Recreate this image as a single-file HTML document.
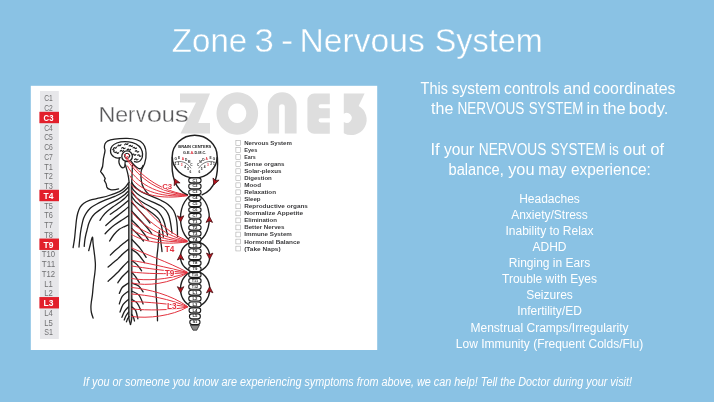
<!DOCTYPE html>
<html><head><meta charset="utf-8"><title>Zone 3 - Nervous System</title>
<style>
html,body{margin:0;padding:0;background:#8ac2e4;overflow:hidden}
svg{display:block;will-change:transform;filter:blur(0.4px)}
text{font-family:"Liberation Sans",sans-serif}
</style></head><body>
<svg width="714" height="402" viewBox="0 0 714 402">
<rect width="714" height="402" fill="#8ac2e4"/>
<!-- title -->
<g fill="#fff" font-size="32.5" stroke="#8ac2e4" stroke-width="0.35">
<text x="171.81" y="52.3" textLength="75.36" lengthAdjust="spacingAndGlyphs">Zone</text>
<text x="254.61" y="52.3" textLength="19.29" lengthAdjust="spacingAndGlyphs">3</text>
<text x="280.95" y="52.3" textLength="12.23" lengthAdjust="spacingAndGlyphs">-</text>
<text x="299.61" y="52.3" textLength="125.12" lengthAdjust="spacingAndGlyphs">Nervous</text>
<text x="434.74" y="52.3" textLength="107.89" lengthAdjust="spacingAndGlyphs">System</text>
</g>

<!-- panel -->
<rect x="30.8" y="85.8" width="346.4" height="264.2" fill="#fff"/>
<!-- label strip -->
<rect x="40" y="91" width="18.8" height="248" fill="#e7e7ea"/>
<g font-size="9.4" text-anchor="middle">
<text x="48.5" y="101.40" fill="#707072" textLength="8.6" lengthAdjust="spacingAndGlyphs">C1</text>
<text x="48.5" y="111.15" fill="#707072" textLength="8.6" lengthAdjust="spacingAndGlyphs">C2</text>
<rect x="39.4" y="111.80" width="19.6" height="11.4" fill="#e21f2b"/>
<text x="48.5" y="120.90" fill="#fff" font-weight="bold" font-size="9.6" textLength="9.9" lengthAdjust="spacingAndGlyphs">C3</text>
<text x="48.5" y="130.65" fill="#707072" textLength="8.6" lengthAdjust="spacingAndGlyphs">C4</text>
<text x="48.5" y="140.40" fill="#707072" textLength="8.6" lengthAdjust="spacingAndGlyphs">C5</text>
<text x="48.5" y="150.15" fill="#707072" textLength="8.6" lengthAdjust="spacingAndGlyphs">C6</text>
<text x="48.5" y="159.90" fill="#707072" textLength="8.6" lengthAdjust="spacingAndGlyphs">C7</text>
<text x="48.5" y="169.65" fill="#707072" textLength="8.6" lengthAdjust="spacingAndGlyphs">T1</text>
<text x="48.5" y="179.40" fill="#707072" textLength="8.6" lengthAdjust="spacingAndGlyphs">T2</text>
<text x="48.5" y="189.15" fill="#707072" textLength="8.6" lengthAdjust="spacingAndGlyphs">T3</text>
<rect x="39.4" y="189.80" width="19.6" height="11.4" fill="#e21f2b"/>
<text x="48.5" y="198.90" fill="#fff" font-weight="bold" font-size="9.6" textLength="9.9" lengthAdjust="spacingAndGlyphs">T4</text>
<text x="48.5" y="208.65" fill="#707072" textLength="8.6" lengthAdjust="spacingAndGlyphs">T5</text>
<text x="48.5" y="218.40" fill="#707072" textLength="8.6" lengthAdjust="spacingAndGlyphs">T6</text>
<text x="48.5" y="228.15" fill="#707072" textLength="8.6" lengthAdjust="spacingAndGlyphs">T7</text>
<text x="48.5" y="237.90" fill="#707072" textLength="8.6" lengthAdjust="spacingAndGlyphs">T8</text>
<rect x="39.4" y="238.55" width="19.6" height="11.4" fill="#e21f2b"/>
<text x="48.5" y="247.65" fill="#fff" font-weight="bold" font-size="9.6" textLength="9.9" lengthAdjust="spacingAndGlyphs">T9</text>
<text x="48.5" y="257.40" fill="#707072" textLength="13.3" lengthAdjust="spacingAndGlyphs">T10</text>
<text x="48.5" y="267.15" fill="#707072" textLength="13.3" lengthAdjust="spacingAndGlyphs">T11</text>
<text x="48.5" y="276.90" fill="#707072" textLength="13.3" lengthAdjust="spacingAndGlyphs">T12</text>
<text x="48.5" y="286.65" fill="#707072" textLength="8.6" lengthAdjust="spacingAndGlyphs">L1</text>
<text x="48.5" y="296.40" fill="#707072" textLength="8.6" lengthAdjust="spacingAndGlyphs">L2</text>
<rect x="39.4" y="297.05" width="19.6" height="11.4" fill="#e21f2b"/>
<text x="48.5" y="306.15" fill="#fff" font-weight="bold" font-size="9.6" textLength="9.9" lengthAdjust="spacingAndGlyphs">L3</text>
<text x="48.5" y="315.90" fill="#707072" textLength="8.6" lengthAdjust="spacingAndGlyphs">L4</text>
<text x="48.5" y="325.65" fill="#707072" textLength="8.6" lengthAdjust="spacingAndGlyphs">L5</text>
<text x="48.5" y="335.40" fill="#707072" textLength="8.6" lengthAdjust="spacingAndGlyphs">S1</text>
</g>
<!-- ZONE3 -->
<g fill="#dedede">
<path d="M180 93.6H210L198.2 123H210V133.5H180.5L196 102.5H180Z"/>
<path fill-rule="evenodd" d="M237.3 92.2a20.8 21.3 0 1 0 0.01 0ZM237.2 103.5a9.1 9.8 0 1 1 -0.01 0Z"/>
<path d="M267.9 133.4V106.6a14.35 14.35 0 0 1 28.7 0V133.4H284.8V107.2a2.85 2.85 0 0 0 -5.7 0V133.4Z"/>
<path d="M329.8 93.4H314.2a6.8 6.8 0 0 0 -6.8 6.8V126.9a6.8 6.8 0 0 0 6.8 6.8H329.8V122.4H320.6a2 2 0 0 1 0 -4.1H329.8V108.3H320.6a2 2 0 0 1 0 -4.1H329.8Z"/>
<path d="M343.8 93.4H364.6L358.6 106A12.6 12.6 0 0 1 343.8 133.2V122A5 5 0 1 0 343.8 113.8Z"/>
</g>
<g fill="#58585a" font-size="22" stroke="#fff" stroke-width="0.3">
<text x="98.63" y="121.5" textLength="16.89" lengthAdjust="spacingAndGlyphs">N</text>
<text x="115.15" y="121.5" textLength="12.92" lengthAdjust="spacingAndGlyphs">e</text>
<text x="127.90" y="121.5" textLength="7.19" lengthAdjust="spacingAndGlyphs">r</text>
<text x="136.10" y="121.5" textLength="10.20" lengthAdjust="spacingAndGlyphs">v</text>
<text x="146.70" y="121.5" textLength="15.34" lengthAdjust="spacingAndGlyphs">o</text>
<text x="161.67" y="121.5" textLength="13.09" lengthAdjust="spacingAndGlyphs">u</text>
<text x="174.65" y="121.5" textLength="14.14" lengthAdjust="spacingAndGlyphs">s</text>
</g>

<!-- checklist -->
<g font-size="5.3" font-weight="bold" fill="#3a3a3c">
<rect x="235.9" y="140.70" width="4.8" height="4.8" fill="#fff" stroke="#9a9a9a" stroke-width="0.5"/>
<text x="244.2" y="145.10" textLength="47.7" lengthAdjust="spacingAndGlyphs">Nervous System</text>
<rect x="235.9" y="147.73" width="4.8" height="4.8" fill="#fff" stroke="#9a9a9a" stroke-width="0.5"/>
<text x="244.2" y="152.13" textLength="13.1" lengthAdjust="spacingAndGlyphs">Eyes</text>
<rect x="235.9" y="154.76" width="4.8" height="4.8" fill="#fff" stroke="#9a9a9a" stroke-width="0.5"/>
<text x="244.2" y="159.16" textLength="11.5" lengthAdjust="spacingAndGlyphs">Ears</text>
<rect x="235.9" y="161.79" width="4.8" height="4.8" fill="#fff" stroke="#9a9a9a" stroke-width="0.5"/>
<text x="244.2" y="166.19" textLength="40.3" lengthAdjust="spacingAndGlyphs">Sense organs</text>
<rect x="235.9" y="168.82" width="4.8" height="4.8" fill="#fff" stroke="#9a9a9a" stroke-width="0.5"/>
<text x="244.2" y="173.22" textLength="37.3" lengthAdjust="spacingAndGlyphs">Solar-plexus</text>
<rect x="235.9" y="175.85" width="4.8" height="4.8" fill="#fff" stroke="#9a9a9a" stroke-width="0.5"/>
<text x="244.2" y="180.25" textLength="27.6" lengthAdjust="spacingAndGlyphs">Digestion</text>
<rect x="235.9" y="182.88" width="4.8" height="4.8" fill="#fff" stroke="#9a9a9a" stroke-width="0.5"/>
<text x="244.2" y="187.28" textLength="16.8" lengthAdjust="spacingAndGlyphs">Mood</text>
<rect x="235.9" y="189.91" width="4.8" height="4.8" fill="#fff" stroke="#9a9a9a" stroke-width="0.5"/>
<text x="244.2" y="194.31" textLength="31.8" lengthAdjust="spacingAndGlyphs">Relaxation</text>
<rect x="235.9" y="196.94" width="4.8" height="4.8" fill="#fff" stroke="#9a9a9a" stroke-width="0.5"/>
<text x="244.2" y="201.34" textLength="16.4" lengthAdjust="spacingAndGlyphs">Sleep</text>
<rect x="235.9" y="203.97" width="4.8" height="4.8" fill="#fff" stroke="#9a9a9a" stroke-width="0.5"/>
<text x="244.2" y="208.37" textLength="63.7" lengthAdjust="spacingAndGlyphs">Reproductive organs</text>
<rect x="235.9" y="211.00" width="4.8" height="4.8" fill="#fff" stroke="#9a9a9a" stroke-width="0.5"/>
<text x="244.2" y="215.40" textLength="58.9" lengthAdjust="spacingAndGlyphs">Normalize Appetite</text>
<rect x="235.9" y="218.03" width="4.8" height="4.8" fill="#fff" stroke="#9a9a9a" stroke-width="0.5"/>
<text x="244.2" y="222.43" textLength="32.8" lengthAdjust="spacingAndGlyphs">Elimination</text>
<rect x="235.9" y="225.06" width="4.8" height="4.8" fill="#fff" stroke="#9a9a9a" stroke-width="0.5"/>
<text x="244.2" y="229.46" textLength="40.3" lengthAdjust="spacingAndGlyphs">Better Nerves</text>
<rect x="235.9" y="232.09" width="4.8" height="4.8" fill="#fff" stroke="#9a9a9a" stroke-width="0.5"/>
<text x="244.2" y="236.49" textLength="47.7" lengthAdjust="spacingAndGlyphs">Immune System</text>
<rect x="235.9" y="239.12" width="4.8" height="4.8" fill="#fff" stroke="#9a9a9a" stroke-width="0.5"/>
<text x="244.2" y="243.52" textLength="55.9" lengthAdjust="spacingAndGlyphs">Hormonal Balance</text>
<rect x="235.9" y="246.15" width="4.8" height="4.8" fill="#fff" stroke="#9a9a9a" stroke-width="0.5"/>
<text x="244.2" y="250.55" textLength="36.5" lengthAdjust="spacingAndGlyphs">(Take Naps)</text>
</g>
<g fill="none" stroke="#1f1f1f" stroke-width="1.3" stroke-linecap="round" stroke-linejoin="round">
<!-- head outline -->
<path d="M118.6 188.9C115 189.8 112.5 190 110.4 189.6C108.5 189.2 107.2 188.5 106.8 187C106.5 185.5 106.6 184 105.6 182.6L104.4 180.6L105.2 178.6L104 176.2C103.5 175 102 173.5 100.6 171.6C102.2 168.5 103.3 165.5 103.2 161.5C103.1 157.5 104.8 154 105 150.6C105.1 149.6 104.4 148.8 104.4 147.6C104.3 144.8 105 142.5 107.3 141.2C112 138.9 120 138.3 127 138.4C134 138.5 140 140.2 143 143.6C146 147 146.4 153 145.9 158C145.4 163 143.6 166.5 141.6 169.6C140.6 172.5 140.8 177 141.4 181C141.8 185.5 144 190 149.2 194.9"/>
<!-- brain -->
<path d="M120.3 157.6C118.7 158.3 116.4 158.2 114.2 157C111.8 155.6 110.4 153.2 110.5 150.5C110.7 147 113 144.4 116.8 143C121.2 141.5 128 141.4 132.5 142.7C137.3 144.1 141 147.3 142.2 151.5C143 155 142.4 158.4 140.3 160.6C138.8 162.1 136.5 162.4 134.5 161.7"/>
<circle cx="127.1" cy="156.2" r="5.3"/>
<circle cx="127.1" cy="155.9" r="2.6" stroke-width="1"/>
<!-- brain stem -->
<path d="M119.4 158.5C118.6 161 119 164.5 121 166.8C123 168.8 125.3 167.5 125 164.5C124.8 162.5 125 161.5 126 161"/>
<path d="M125.5 165C126.5 169 128 173 128.6 178C129 181 129.4 184 129.5 187"/>
<path d="M131 161.2C133 164 135.5 167 138.5 168.5C140.5 169.3 142.3 168 143 165.5"/>
<path d="M132.5 164.5C132.2 170 132 176 131.6 187"/>
<!-- brain squiggles -->
<g stroke-width="1.15">
<path d="M113.45 148.85C113.82 147.37 114.55 147.49 114.92 147.93C115.30 148.37 116.03 148.48 116.40 147.01"/>
<path d="M117.85 146.23C118.34 144.79 119.06 144.97 119.40 145.44C119.73 145.91 120.45 146.09 120.94 144.66"/>
<path d="M121.64 148.19C122.69 147.09 123.27 147.56 123.37 148.13C123.47 148.69 124.05 149.16 125.11 148.07"/>
<path d="M115.18 152.61C116.32 151.61 116.86 152.13 116.91 152.70C116.96 153.27 117.50 153.79 118.65 152.79"/>
<path d="M124.74 144.80C125.36 143.41 126.06 143.65 126.35 144.15C126.64 144.65 127.35 144.89 127.97 143.50"/>
<path d="M129.09 146.00C130.15 144.91 130.72 145.37 130.83 145.94C130.93 146.51 131.51 146.97 132.56 145.88"/>
<path d="M127.11 149.83C128.07 148.65 128.69 149.06 128.84 149.62C128.99 150.17 129.61 150.59 130.56 149.41"/>
<path d="M133.07 147.84C134.22 146.84 134.75 147.36 134.80 147.93C134.86 148.50 135.39 149.02 136.54 148.02"/>
<path d="M135.27 151.16C136.50 150.27 136.99 150.83 136.99 151.41C136.99 151.98 137.48 152.54 138.71 151.65"/>
<path d="M132.27 154.65C133.33 153.55 133.90 154.02 134.01 154.59C134.11 155.15 134.69 155.62 135.74 154.53"/>
<path d="M137.58 155.19C138.89 154.41 139.32 155.01 139.28 155.58C139.23 156.16 139.67 156.76 140.97 155.97"/>
<path d="M134.57 159.67C135.53 158.49 136.14 158.90 136.29 159.46C136.45 160.01 137.06 160.43 138.02 159.25"/>
<path d="M112.77 149.62C114.28 149.72 114.30 150.47 113.93 150.91C113.56 151.35 113.57 152.10 115.09 152.20"/>
<path d="M120.18 151.27C121.03 150.01 121.68 150.37 121.88 150.91C122.08 151.45 122.73 151.81 123.58 150.55"/>
</g>
</g>
<!-- body: shoulders, arms, torso, spine, nerves -->
<g fill="none" stroke="#1f1f1f" stroke-width="1.3" stroke-linecap="round" stroke-linejoin="round">
<!-- spinal cord -->
<path d="M128.8 183V318C129.2 321 130 323 130.5 324.5C131 323 131.5 321 131.8 318V183Z" fill="#cfcfcf" stroke="none"/>
<path d="M128.8 183V318C129.2 321 130 323 130.5 324.5"/>
<path d="M131.8 183V318C131.5 321 131 323 130.5 324.5"/>
<!-- right shoulder / arm lines -->
<path d="M131.6 182.4C133.5 186 137 190 144.7 193.4C150 195.7 156 198 162 200.8C167 203 171 206.5 173.5 210.5C176 215 177 221 177.3 227C177.5 231 177.5 234 177.5 236.5"/>
<path d="M131.6 187.2C134 191.5 138 195 144.7 198.5C150 201.2 156 203 161 206C165 208.5 167.5 212 169 216C170.5 221 171.3 227 172 233"/>
<path d="M131.6 191.8C134 196 138 199.5 143 202.5C148 205.5 153 207.5 157 210.5C160.5 213.5 163 218 164.5 223C165.5 227 166.5 231 167.5 235"/>
<path d="M131.6 196.5C134 200.5 137 203.2 140 205.2C143.5 207.5 147 209.5 150 211.5C154 214.3 157 216.5 159 219.5C161.5 223.5 162.5 230 163.4 237"/>
<!-- right armpit + torso -->
<path d="M162 251.5C161.2 244 160.2 237 159.3 230.5C158.8 237 158.3 242 158 247C157.5 252 156.7 257 156.7 262C156.5 270 156 279 155.8 287C155.8 295 157 303 157.3 311C157.5 315 157.5 318 157.5 320.8"/>
<!-- right nerve branches -->
<path d="M131.7 202.5C136 207 143 214 150 223"/>
<path d="M131.7 211C136 216 145 224 151.7 233.5"/>
<path d="M131.7 220C136 224 143 231 148.3 240"/>
<path d="M131.7 228.5C136 232 140 236.5 143.5 241"/>
</g>
<!-- body lines (generated) -->
<g fill="none" stroke="#1f1f1f" stroke-width="1.3" stroke-linecap="round" stroke-linejoin="round">
<path d="M128.4 183.0C127.8 183.8 126.0 186.6 124.5 188.0C123.0 189.4 121.9 190.3 119.3 191.6C116.7 192.8 112.2 194.4 109.0 195.5C105.8 196.6 103.2 197.1 99.9 197.9C96.6 198.7 92.1 199.4 89.4 200.3C86.7 201.2 85.0 202.3 83.5 203.5C82.0 204.7 81.2 205.6 80.2 207.2C79.2 208.8 78.4 210.9 77.8 213.0C77.2 215.1 76.9 216.7 76.5 219.5C76.1 222.3 75.8 226.6 75.4 230.0C75.1 233.4 74.8 236.8 74.4 239.7C74.0 242.6 73.3 246.3 73.1 247.6"/>
<path d="M128.2 187.3C127.2 188.2 124.7 191.0 122.5 192.5C120.3 194.0 117.7 195.1 114.8 196.4C111.9 197.7 108.0 198.9 105.0 200.2C102.0 201.5 99.3 202.7 96.9 204.0C94.5 205.3 92.2 206.5 90.5 208.0C88.8 209.5 87.6 211.1 86.4 212.8C85.2 214.6 84.2 216.5 83.5 218.5C82.8 220.5 82.4 222.6 81.9 224.8C81.4 227.1 81.0 229.5 80.6 232.0C80.2 234.5 80.0 237.2 79.7 239.7C79.4 242.2 79.1 245.8 79.0 247.0"/>
<path d="M128.2 191.2C127.4 191.9 125.2 194.2 123.5 195.6C121.8 197.0 120.4 197.9 117.8 199.4C115.2 200.9 111.0 202.8 108.0 204.5C105.0 206.2 102.2 208.3 99.9 209.9C97.7 211.5 96.0 212.5 94.5 214.0C93.0 215.5 91.9 217.1 90.9 218.8C89.9 220.5 89.2 222.2 88.6 224.0C88.0 225.8 87.7 227.6 87.2 229.3C86.8 231.1 86.3 232.8 85.9 234.5C85.5 236.2 85.2 237.7 84.9 239.7C84.6 241.7 84.3 245.3 84.2 246.4"/>
<path d="M128.4 194.2C127.8 194.9 126.0 197.1 124.5 198.5C123.0 199.9 121.2 201.0 119.3 202.4C117.4 203.8 115.0 205.3 113.0 206.8C111.0 208.3 109.0 209.8 107.3 211.3C105.6 212.8 104.2 214.3 103.0 215.8C101.8 217.3 100.4 219.6 99.9 220.3"/>
<path d="M128.4 200.6C127.0 201.8 123.0 205.2 120.0 207.5C117.0 209.8 111.9 213.2 110.3 214.3"/>
<path d="M128.4 206.9C127.8 207.4 126.0 209.0 124.5 210.2C123.0 211.4 121.4 212.7 119.3 214.3C117.2 215.9 114.2 218.1 112.0 220.0C109.8 221.9 106.8 224.6 105.8 225.5"/>
<path d="M128.4 215.8C127.3 216.5 124.3 218.5 122.0 220.0C119.7 221.5 116.9 223.3 114.8 224.8C112.7 226.3 111.1 227.7 109.5 229.2C107.9 230.7 105.8 232.9 105.1 233.7"/>
<path d="M128.4 224.8C127.7 225.1 125.5 226.1 124.0 226.8C122.5 227.6 121.0 228.0 119.3 229.3C117.6 230.6 115.6 232.6 114.0 234.5C112.4 236.4 110.3 239.9 109.6 241.0"/>
<path d="M88.7 250.7C89.0 249.7 89.7 246.8 90.3 244.5C90.9 242.2 91.9 237.4 92.4 237.2C92.9 237.0 92.8 241.4 93.1 243.5C93.3 245.6 93.6 247.7 93.9 249.9C94.2 252.2 94.5 254.5 94.8 257.0C95.0 259.5 95.4 262.3 95.4 264.9C95.4 267.5 95.2 270.0 94.9 272.5C94.7 275.0 94.2 277.5 93.9 280.0C93.6 282.5 93.3 285.0 93.1 287.5C92.8 290.0 92.7 292.6 92.4 294.9C92.1 297.2 91.7 299.5 91.4 301.5C91.2 303.5 90.9 305.1 90.9 306.9C90.9 308.7 91.0 310.6 91.4 312.5C91.8 314.4 92.8 317.2 93.1 318.1"/>
<path d="M128.4 239.5C127.7 240.1 125.5 241.8 124.0 243.0C122.5 244.2 120.9 245.6 119.3 246.9C117.7 248.2 116.0 249.6 114.5 251.0C113.0 252.4 111.0 254.4 110.3 255.1"/>
<path d="M128.4 249.2C127.5 250.0 124.8 252.2 123.0 253.8C121.2 255.4 119.5 257.3 117.8 258.9C116.0 260.5 114.1 261.9 112.5 263.3C110.9 264.7 108.8 266.5 108.1 267.1"/>
<path d="M128.4 261.1C127.5 262.0 124.8 264.6 123.0 266.5C121.2 268.4 119.5 270.5 117.8 272.3C116.0 274.1 114.1 275.8 112.5 277.3C110.9 278.8 108.8 280.6 108.1 281.3"/>
<path d="M128.4 270.8C127.4 271.8 124.0 274.8 122.2 276.8C120.4 278.8 118.5 281.8 117.8 282.8"/>
<path d="M128.4 283.0C127.4 283.8 123.7 285.8 122.2 287.5C120.7 289.2 119.8 292.4 119.3 293.4"/>
<path d="M128.4 291.2C127.4 292.1 123.7 294.3 122.2 296.4C120.7 298.5 119.8 302.6 119.3 303.9"/>
<path d="M128.4 299.4C127.5 300.3 124.4 302.5 123.0 304.6C121.6 306.7 120.5 310.9 120.0 312.1"/>
<path d="M128.4 306.9C127.8 307.6 125.6 309.6 124.5 311.3C123.4 313.0 122.3 316.3 121.9 317.3"/>
<path d="M128.6 312.1C128.2 312.7 126.7 314.5 126.0 315.8C125.3 317.1 124.5 319.3 124.2 320.0"/>
<path d="M129.0 316.6C128.8 317.0 127.9 318.2 127.5 319.1C127.1 320.0 126.6 321.4 126.4 321.8"/>
<path d="M131.9 239.5C133.3 241.0 137.7 245.4 140.1 248.4C142.5 251.4 145.1 255.9 146.1 257.4"/>
<path d="M131.9 249.5C132.9 250.2 135.9 251.8 138.0 254.0C140.1 256.2 143.4 261.1 144.5 262.5"/>
<path d="M131.9 260.4C132.8 261.1 135.6 263.2 137.2 264.9C138.8 266.6 140.9 269.8 141.6 270.8"/>
<path d="M131.9 272.3C132.5 273.1 134.4 275.1 135.7 276.8C136.9 278.6 138.8 281.8 139.4 282.8"/>
<path d="M131.9 283.0C133.0 283.5 136.8 284.5 138.7 286.0C140.6 287.5 142.4 290.9 143.1 291.9"/>
<path d="M131.9 291.2C133.0 291.8 136.8 292.8 138.7 294.9C140.6 297.0 142.4 302.4 143.1 303.9"/>
<path d="M131.9 299.4C132.8 300.0 135.7 301.2 137.2 303.1C138.7 305.0 140.3 309.4 140.9 310.6"/>
<path d="M131.9 306.9C132.5 307.5 134.7 308.6 135.7 310.6C136.7 312.6 137.5 317.4 137.9 318.8"/>
<path d="M131.6 314.3C131.9 314.8 132.9 316.2 133.4 317.3C133.9 318.4 134.3 320.4 134.5 321.0"/>
</g>
<!-- red nerve lines -->
<g fill="none" stroke="#e2323e" stroke-width="1" stroke-linecap="round">
<!-- C3 bundle: brain -> C3/C4 -->
<path d="M124.3 154.5C133 166 152 190 187.5 194.9"/>
<path d="M126 158C136 174 154 192.5 187.5 195.1"/>
<path d="M127.5 166C136 182 155 195.5 187.5 195.3"/>
<path d="M130 176C138 189 158 198 187.5 195.5"/>
<path d="M131.5 185C140 194 160 200 187.5 195.7"/>
<!-- T4 bundle -->
<path d="M131.7 191C145 210 165 232 187 240.6"/>
<path d="M131.7 201C142 216 162 235 187 240.9"/>
<path d="M131.7 212C142 225 160 238 187 241.2"/>
<path d="M131.7 223C142 231 160 240.5 187 241.5"/>
<path d="M131.7 229.5C142 236 160 243 187 241.7"/>
<path d="M131.7 234.5C142 241 162 245.5 187 241.9"/>
<!-- T9 bundle -->
<path d="M131.7 248C145 254 168 262 187 272"/>
<path d="M131.7 260.5C145 262.5 165 267 187 272.3"/>
<path d="M131.7 266C145 268 165 271 187 272.5"/>
<path d="M131.7 272C145 273.5 165 274.5 187 272.7"/>
<path d="M131.7 278.5C145 281 168 280 187 273"/>
<path d="M131.7 283C148 286.5 170 283.5 187 273.3"/>
<!-- L3 bundle -->
<path d="M131.7 287.5C148 289 172 295 187.3 306.4"/>
<path d="M131.7 294C148 295 170 299 187.3 306.6"/>
<path d="M131.7 301.5C148 302 170 304 187.3 306.8"/>
<path d="M131.7 309C148 310.5 170 310.5 187.3 307"/>
<path d="M131.7 316.5C148 318.8 172 316 187.3 307.2"/>
</g>
<!-- red dots in thalamus -->
<g fill="#e2323e"><circle cx="125.2" cy="155" r="0.8"/><circle cx="127.8" cy="156.8" r="0.8"/><circle cx="126.2" cy="158.4" r="0.8"/><circle cx="128.8" cy="154.4" r="0.7"/></g>
<!-- red labels -->
<g fill="#e2323e" font-weight="bold" font-size="8.2" text-anchor="middle" stroke="#fff" stroke-width="1.6" paint-order="stroke">
<text x="167.2" y="189" font-size="7.8">C3</text>
<text x="169.6" y="252">T4</text>
<text x="169.6" y="275.5">T9</text>
<text x="171.8" y="309.2">L3</text>
</g>
<!-- spine diagram -->
<g fill="none" stroke="#1f1f1f" stroke-width="1.4" stroke-linecap="round">
<ellipse cx="194.7" cy="156.6" rx="22.5" ry="21.4" stroke-width="1.5"/>
<path d="M172.2 157.5C171.6 166 172.4 175 174.6 181C177 187.5 181.5 192.5 187.4 194.8"/>
<path d="M217.4 157.5C218 166 217.2 175 215.1 181C212.7 187.5 208 192.5 202 194.8"/>
<ellipse cx="194.9" cy="218.3" rx="14.4" ry="23.4"/>
<ellipse cx="195.1" cy="256.7" rx="14.6" ry="15"/>
<ellipse cx="195.1" cy="289" rx="14.6" ry="17.6"/>
</g>
<g fill="#fff" stroke="#1a1a1a" stroke-width="1.1">
<path d="M190.4 325.2H199.4L196.8 330.2H193Z" fill="#8a8a8a" stroke-width="0.7"/>
<rect x="188.75" y="177.90" width="12.30" height="4.9" rx="2.45" ry="2.3"/>
<rect x="188.75" y="183.81" width="12.30" height="4.9" rx="2.45" ry="2.3"/>
<rect x="188.75" y="189.72" width="12.30" height="4.9" rx="2.45" ry="2.3"/>
<rect x="188.75" y="195.63" width="12.30" height="4.9" rx="2.45" ry="2.3"/>
<rect x="188.75" y="201.54" width="12.30" height="4.9" rx="2.45" ry="2.3"/>
<rect x="188.75" y="207.45" width="12.30" height="4.9" rx="2.45" ry="2.3"/>
<rect x="188.75" y="213.36" width="12.30" height="4.9" rx="2.45" ry="2.3"/>
<rect x="188.75" y="219.27" width="12.30" height="4.9" rx="2.45" ry="2.3"/>
<rect x="188.75" y="225.18" width="12.30" height="4.9" rx="2.45" ry="2.3"/>
<rect x="188.75" y="231.09" width="12.30" height="4.9" rx="2.45" ry="2.3"/>
<rect x="188.75" y="237.00" width="12.30" height="4.9" rx="2.45" ry="2.3"/>
<rect x="188.75" y="242.91" width="12.30" height="4.9" rx="2.45" ry="2.3"/>
<rect x="188.75" y="248.82" width="12.30" height="4.9" rx="2.45" ry="2.3"/>
<rect x="188.75" y="254.73" width="12.30" height="4.9" rx="2.45" ry="2.3"/>
<rect x="188.75" y="260.64" width="12.30" height="4.9" rx="2.45" ry="2.3"/>
<rect x="188.75" y="266.55" width="12.30" height="4.9" rx="2.45" ry="2.3"/>
<rect x="188.75" y="272.46" width="12.30" height="4.9" rx="2.45" ry="2.3"/>
<rect x="188.75" y="278.37" width="12.30" height="4.9" rx="2.45" ry="2.3"/>
<rect x="188.75" y="284.28" width="12.30" height="4.9" rx="2.45" ry="2.3"/>
<rect x="188.75" y="290.19" width="12.30" height="4.9" rx="2.45" ry="2.3"/>
<rect x="188.75" y="296.10" width="12.30" height="4.9" rx="2.45" ry="2.3"/>
<rect x="188.75" y="302.01" width="12.30" height="4.9" rx="2.45" ry="2.3"/>
<rect x="189.10" y="307.92" width="11.60" height="4.9" rx="2.45" ry="2.3"/>
<rect x="189.45" y="313.83" width="10.90" height="4.9" rx="2.45" ry="2.3"/>
<rect x="189.80" y="319.74" width="10.20" height="4.9" rx="2.45" ry="2.3"/>
</g>
<g fill="#222" font-size="3.4" font-weight="bold" text-anchor="middle">
<text x="194.9" y="181.55" textLength="5.0" lengthAdjust="spacingAndGlyphs">C1</text>
<text x="194.9" y="187.46" textLength="5.0" lengthAdjust="spacingAndGlyphs">C2</text>
<text x="194.9" y="193.37" textLength="5.0" lengthAdjust="spacingAndGlyphs">C3</text>
<text x="194.9" y="199.28" textLength="5.0" lengthAdjust="spacingAndGlyphs">C4</text>
<text x="194.9" y="205.19" textLength="5.0" lengthAdjust="spacingAndGlyphs">C5</text>
<text x="194.9" y="211.10" textLength="5.0" lengthAdjust="spacingAndGlyphs">C6</text>
<text x="194.9" y="217.01" textLength="5.0" lengthAdjust="spacingAndGlyphs">C7</text>
<text x="194.9" y="222.92" textLength="5.0" lengthAdjust="spacingAndGlyphs">T1</text>
<text x="194.9" y="228.83" textLength="5.0" lengthAdjust="spacingAndGlyphs">T2</text>
<text x="194.9" y="234.74" textLength="5.0" lengthAdjust="spacingAndGlyphs">T3</text>
<text x="194.9" y="240.65" textLength="5.0" lengthAdjust="spacingAndGlyphs">T4</text>
<text x="194.9" y="246.56" textLength="5.0" lengthAdjust="spacingAndGlyphs">T5</text>
<text x="194.9" y="252.47" textLength="5.0" lengthAdjust="spacingAndGlyphs">T6</text>
<text x="194.9" y="258.38" textLength="5.0" lengthAdjust="spacingAndGlyphs">T7</text>
<text x="194.9" y="264.29" textLength="5.0" lengthAdjust="spacingAndGlyphs">T8</text>
<text x="194.9" y="270.20" textLength="5.0" lengthAdjust="spacingAndGlyphs">T9</text>
<text x="194.9" y="276.11" textLength="6.4" lengthAdjust="spacingAndGlyphs">T10</text>
<text x="194.9" y="282.02" textLength="6.4" lengthAdjust="spacingAndGlyphs">T11</text>
<text x="194.9" y="287.93" textLength="6.4" lengthAdjust="spacingAndGlyphs">T12</text>
<text x="194.9" y="293.84" textLength="5.0" lengthAdjust="spacingAndGlyphs">L1</text>
<text x="194.9" y="299.75" textLength="5.0" lengthAdjust="spacingAndGlyphs">L2</text>
<text x="194.9" y="305.66" textLength="5.0" lengthAdjust="spacingAndGlyphs">L3</text>
<text x="194.9" y="311.57" textLength="5.0" lengthAdjust="spacingAndGlyphs">L4</text>
<text x="194.9" y="317.48" textLength="5.0" lengthAdjust="spacingAndGlyphs">L5</text>
<text x="194.9" y="323.39" textLength="5.0" lengthAdjust="spacingAndGlyphs">S1</text>
</g>
<g fill="#b8141f" stroke="#4a1014" stroke-width="0.8" stroke-linejoin="round">
<path d="M174.56 178.72L180.08 182.90L176.50 182.88L174.22 185.63Z"/>
<path d="M213.94 184.79L213.00 177.94L215.51 180.48L219.07 180.15Z"/>
<path d="M180.60 221.90L177.37 215.78L180.60 217.31L183.83 215.78Z"/>
<path d="M209.30 216.30L212.53 222.42L209.30 220.89L206.07 222.42Z"/>
<path d="M180.60 253.90L183.83 260.02L180.60 258.49L177.37 260.02Z"/>
<path d="M209.70 259.20L206.47 253.08L209.70 254.61L212.93 253.08Z"/>
<path d="M180.60 292.80L177.37 286.68L180.60 288.21L183.83 286.68Z"/>
<path d="M209.70 286.70L212.93 292.82L209.70 291.29L206.47 292.82Z"/>
</g>
<g font-weight="bold" fill="#1f1f1f" text-anchor="middle">
<text x="194.8" y="148.4" font-size="3.7" textLength="33" lengthAdjust="spacingAndGlyphs">BRAIN CENTERS</text>
<text x="194.6" y="153.6" font-size="3.5" textLength="23.4" lengthAdjust="spacingAndGlyphs">G.E.<tspan fill="#e2323e">A</tspan>.D.M.C.</text>
</g>
<g fill="none" stroke="#1f1f1f" stroke-width="0.6">
<path d="M174.6 162.3C180.5 160.2 187 162 191 168.3"/>
<path d="M215 162.3C209.1 160.2 202.6 162 198.6 168.3"/>
</g>
<g font-weight="bold" font-size="3.2" text-anchor="middle" fill="#1f1f1f">
<text x="175.67" y="159.60">G</text>
<text x="213.93" y="159.60">G</text>
<text x="179.10" y="158.55">E</text>
<text x="210.50" y="158.55">E</text>
<text x="182.84" y="159.90" fill="#e2323e">A</text>
<text x="206.76" y="159.90" fill="#e2323e">A</text>
<text x="186.27" y="161.09">D</text>
<text x="203.33" y="161.09">D</text>
<text x="189.10" y="163.03">M</text>
<text x="200.50" y="163.03">M</text>
<text x="191.49" y="165.57">C</text>
<text x="198.11" y="165.57">C</text>
<text x="175.67" y="164.82">1</text>
<text x="213.93" y="164.82">1</text>
<text x="178.36" y="165.27">2</text>
<text x="211.24" y="165.27">2</text>
<text x="181.64" y="166.31" fill="#e2323e">3</text>
<text x="207.96" y="166.31" fill="#e2323e">3</text>
<text x="185.07" y="168.10">4</text>
<text x="204.53" y="168.10">4</text>
<text x="188.06" y="170.04">5</text>
<text x="201.54" y="170.04">5</text>
<text x="190.30" y="173.03">6</text>
<text x="199.30" y="173.03">6</text>
</g>

<!-- right text -->
<g fill="#fff" font-size="15.6">
<text x="420.54" y="94.3" textLength="27.36" lengthAdjust="spacingAndGlyphs">This</text>
<text x="451.84" y="94.3" textLength="48.90" lengthAdjust="spacingAndGlyphs">system</text>
<text x="504.09" y="94.3" textLength="55.19" lengthAdjust="spacingAndGlyphs">controls</text>
<text x="563.27" y="94.3" textLength="26.93" lengthAdjust="spacingAndGlyphs">and</text>
<text x="593.28" y="94.3" textLength="82.27" lengthAdjust="spacingAndGlyphs">coordinates</text>
<text x="431.06" y="114.3" textLength="22.26" lengthAdjust="spacingAndGlyphs">the</text>
<text x="457.41" y="114.3" textLength="67.03" lengthAdjust="spacingAndGlyphs">NERVOUS</text>
<text x="528.70" y="114.3" textLength="54.69" lengthAdjust="spacingAndGlyphs">SYSTEM</text>
<text x="586.63" y="114.3" textLength="12.79" lengthAdjust="spacingAndGlyphs">in</text>
<text x="602.95" y="114.3" textLength="22.79" lengthAdjust="spacingAndGlyphs">the</text>
<text x="628.81" y="114.3" textLength="39.73" lengthAdjust="spacingAndGlyphs">body.</text>
<text x="430.41" y="155.2" textLength="9.22" lengthAdjust="spacingAndGlyphs">If</text>
<text x="443.92" y="155.2" textLength="30.40" lengthAdjust="spacingAndGlyphs">your</text>
<text x="478.80" y="155.2" textLength="67.55" lengthAdjust="spacingAndGlyphs">NERVOUS</text>
<text x="550.70" y="155.2" textLength="55.00" lengthAdjust="spacingAndGlyphs">SYSTEM</text>
<text x="609.02" y="155.2" textLength="9.78" lengthAdjust="spacingAndGlyphs">is</text>
<text x="622.94" y="155.2" textLength="23.03" lengthAdjust="spacingAndGlyphs">out</text>
<text x="650.45" y="155.2" textLength="13.53" lengthAdjust="spacingAndGlyphs">of</text>
<text x="448.55" y="175.2" textLength="55.20" lengthAdjust="spacingAndGlyphs">balance,</text>
<text x="508.22" y="175.2" textLength="26.28" lengthAdjust="spacingAndGlyphs">you</text>
<text x="538.33" y="175.2" textLength="28.13" lengthAdjust="spacingAndGlyphs">may</text>
<text x="571.01" y="175.2" textLength="79.76" lengthAdjust="spacingAndGlyphs">experience:</text>
</g>

<g fill="#fff" font-size="12" text-anchor="middle">
<text x="549.5" y="202.7">Headaches</text>
<text x="549.5" y="218.8">Anxiety/Stress</text>
<text x="549.5" y="234.9">Inability to Relax</text>
<text x="549.5" y="251">ADHD</text>
<text x="549.5" y="267.1">Ringing in Ears</text>
<text x="549.5" y="283.2">Trouble with Eyes</text>
<text x="549.5" y="299.3">Seizures</text>
<text x="549.5" y="315.4">Infertility/ED</text>
<text x="549.5" y="331.5">Menstrual Cramps/Irregularity</text>
<text x="549.5" y="347.6">Low Immunity (Frequent Colds/Flu)</text>
</g>
<text x="357.5" y="386" font-size="12" font-style="italic" fill="#fff" text-anchor="middle" textLength="549" lengthAdjust="spacingAndGlyphs">If you or someone you know are experiencing symptoms from above, we can help! Tell the Doctor during your visit!</text>
</svg>
</body></html>
